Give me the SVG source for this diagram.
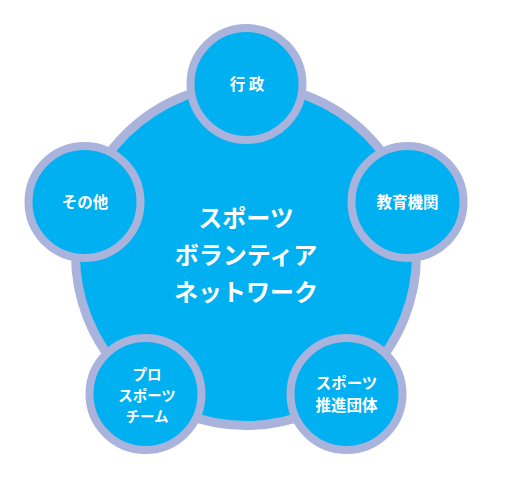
<svg xmlns="http://www.w3.org/2000/svg" width="531" height="479" viewBox="0 0 531 479">
<style>
.big{fill:#00B0F0;stroke:#A9B3DB;stroke-width:9}
.sm{fill:#00B0F0;stroke:#A9B3DB;stroke-width:8}
text{font-family:"Noto Sans CJK JP","Noto Sans",sans-serif;font-weight:bold;fill:#fff;text-anchor:middle}
.s{font-size:15.5px}
.p{font-size:14.5px}
.c{font-size:24px}
</style>
<rect width="531" height="479" fill="#fff"/>
<g id="connectors"></g>
<g id="center">
<circle class="big" cx="246" cy="255" r="170.5"/>
<text class="c" x="246" y="227"><tspan x="246">スポーツ</tspan><tspan x="246" dy="37">ボランティア</tspan><tspan x="246" dy="37">ネットワーク</tspan></text>
</g>
<g id="gyosei">
<circle class="sm" cx="246.5" cy="84" r="56"/>
<text class="s" x="247" y="90">行 政</text>
</g>
<g id="kyoiku">
<circle class="sm" cx="407.5" cy="202" r="56"/>
<text class="s" x="407.5" y="208">教育機関</text>
</g>
<g id="sonota">
<circle class="sm" cx="84.5" cy="202" r="56"/>
<text class="s" x="85" y="208">その他</text>
</g>
<g id="pro">
<circle class="sm" cx="145.5" cy="394" r="56"/>
<text class="p" x="147" y="380"><tspan x="147">プロ</tspan><tspan x="147" dy="21">スポーツ</tspan><tspan x="147" dy="21">チーム</tspan></text>
</g>
<g id="suishin">
<circle class="sm" cx="346.5" cy="394" r="56"/>
<text class="s" x="346.5" y="389"><tspan x="346.5">スポーツ</tspan><tspan x="346.5" dy="22">推進団体</tspan></text>
</g>
</svg>
